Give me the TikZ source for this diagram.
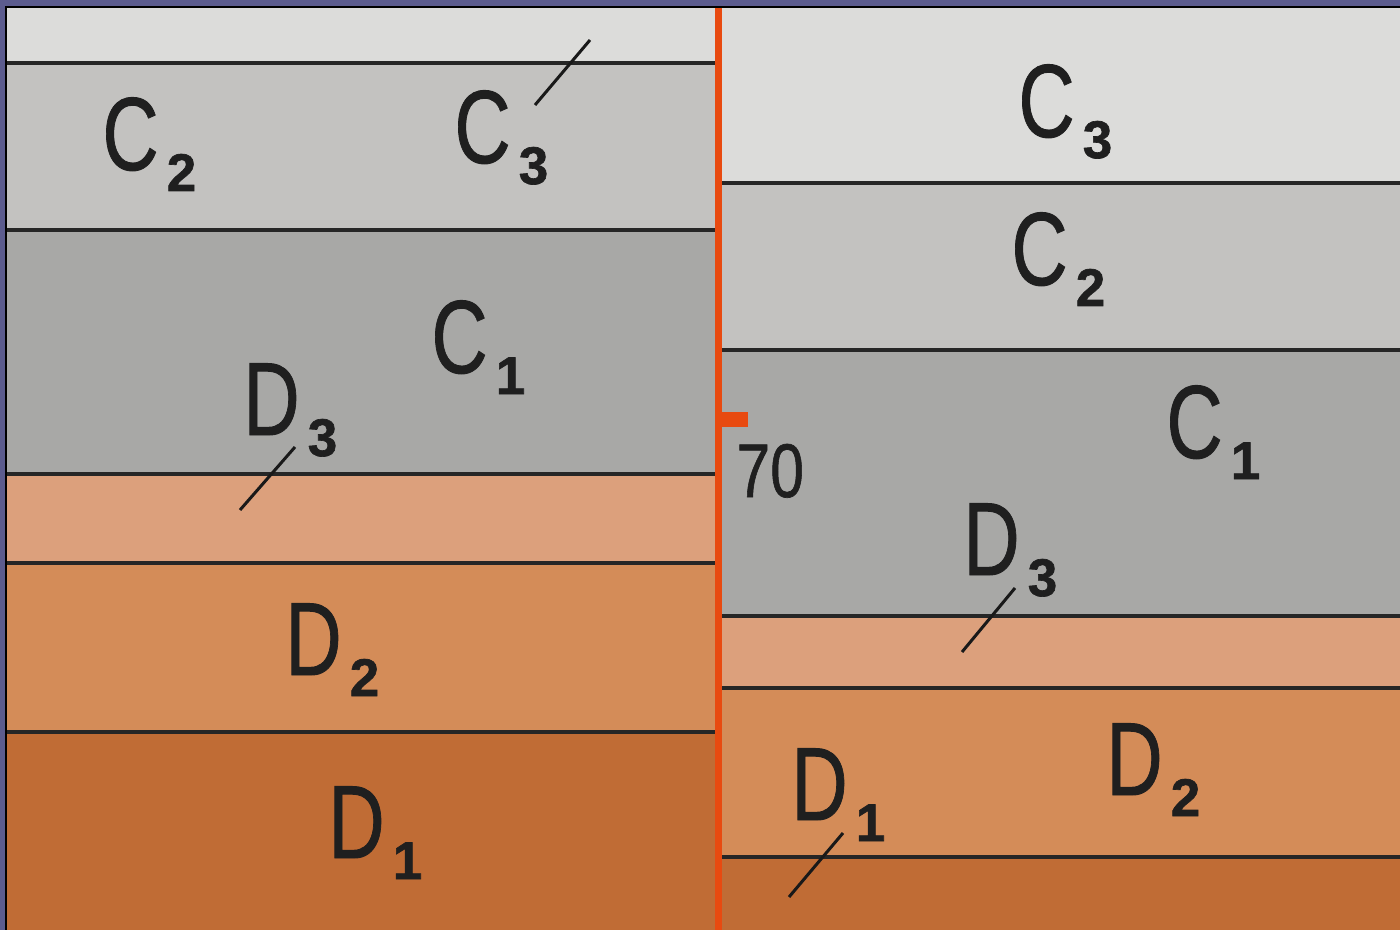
\documentclass[tikz,border=0pt]{standalone}
\usepackage{graphicx,xcolor}
\usepackage{fontspec}
\setmainfont{Liberation Sans}
\newfontfamily\geofont[FakeBold=0.9]{Liberation Sans}
\newfontfamily\subfont[FakeBold=1.2]{Liberation Sans Bold}
\usepackage{tikz}
\usetikzlibrary{positioning}

\definecolor{frameblue}{RGB}{92,92,142}
\definecolor{greyA}{RGB}{220,220,218}
\definecolor{greyB}{RGB}{195,194,192}
\definecolor{greyC}{RGB}{168,168,166}
\definecolor{sandA}{RGB}{220,160,124}
\definecolor{sandB}{RGB}{212,140,88}
\definecolor{sandC}{RGB}{192,108,53}
\definecolor{faultred}{RGB}{232,74,16}

% stratigraphic index: big letter + bold subscript
\newcommand{\geo}[2]{\scalebox{0.75}[1]{\geofont\fontsize{52}{52}\selectfont #1}\kern4pt\raisebox{-10.5pt}{\subfont\fontsize{26.5}{26.5}\selectfont #2}}

\begin{document}
\begin{tikzpicture}[x=0.5pt,y=-0.5pt,
  bed/.style={line width=1.6pt,draw=black!85},
  tick/.style={line width=1.5pt,draw=black!90},
  idx/.style={anchor=base west,inner sep=0pt,text=black!88}]
\useasboundingbox (0,0) rectangle (1400,930);
\fill[frameblue] (0,0) rectangle (1400,930);
\fill[black] (5,6) rectangle (1400,930);
% left block
\fill[greyA] (7,8) rectangle (715,63);
\fill[greyB] (7,63) rectangle (715,230);
\fill[greyC] (7,230) rectangle (715,474);
\fill[sandA] (7,474) rectangle (715,563);
\fill[sandB] (7,563) rectangle (715,732);
\fill[sandC] (7,732) rectangle (715,930);
\foreach \y in {63,230,474,563,732} \draw[bed] (7,\y) -- (715,\y);
% right block
\fill[greyA] (718,8) rectangle (1400,183);
\fill[greyB] (718,183) rectangle (1400,350);
\fill[greyC] (718,350) rectangle (1400,616);
\fill[sandA] (718,616) rectangle (1400,688);
\fill[sandB] (718,688) rectangle (1400,857);
\fill[sandC] (718,857) rectangle (1400,930);
\foreach \y in {183,350,616,688,857} \draw[bed] (722,\y) -- (1400,\y);
% fault
\draw[faultred,line width=3.5pt] (718.5,8) -- (718.5,930);
\fill[faultred] (718,412) rectangle (748,427);
\node[idx] (dip) at (736,497) {\scalebox{0.8}[1]{\geofont\fontsize{38}{38}\selectfont 70}};
% labels left
\node[idx] (lC2) at (102,170) {\geo{C}{2}};
\node[idx] (lC3) at (454,163) {\geo{C}{3}};
\node[idx] (lC1) at (431,373) {\geo{C}{1}};
\node[idx] (lD3) at (243,435) {\geo{D}{3}};
\node[idx] (lD2) at (285,675) {\geo{D}{2}};
\node[idx] (lD1) at (328,858) {\geo{D}{1}};
% labels right
\node[idx] (rC3) at (1018,137) {\geo{C}{3}};
\node[idx] (rC2) at (1011,285) {\geo{C}{2}};
\node[idx] (rC1) at (1166,458) {\geo{C}{1}};
\node[idx] (rD3) at (963,575) {\geo{D}{3}};
\node[idx] (rD2) at (1106,795) {\geo{D}{2}};
\node[idx] (rD1) at (791,820) {\geo{D}{1}};
% boundary ticks
\draw[tick] (535,105) -- (590,40);
\draw[tick] (240,510) -- (295,447);
\draw[tick] (962,652) -- (1015,588);
\draw[tick] (789,897) -- (843,833);
\end{tikzpicture}
\end{document}
